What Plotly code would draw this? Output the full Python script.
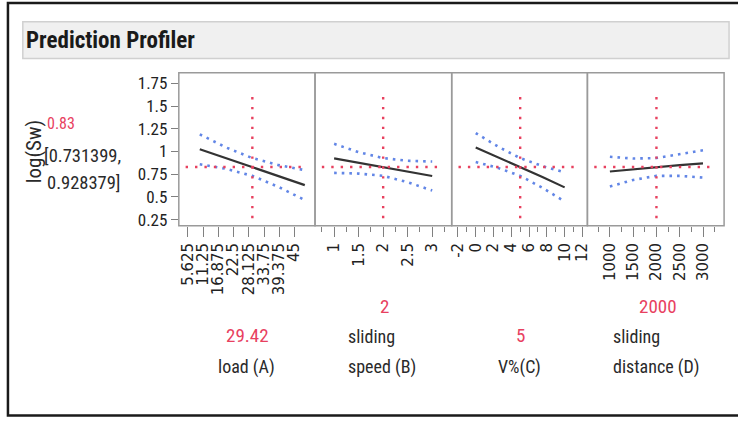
import plotly.graph_objects as go

W, H = 738, 421

# ---------------- data ----------------
response_name = "log(Sw)"
response_value = "0.83"
response_ci = ["[0.731399,", "0.928379]"]

factor_names = [["load (A)"], ["sliding", "speed (B)"], ["V%(C)"], ["sliding", "distance (D)"]]
factor_current = [29.42, 2, 5, 2000]
factor_current_text = ["29.42", "2", "5", "2000"]

load_x = [10, 19.7, 29.42, 39.1, 48.8]
load_pred = [1.025, 0.928, 0.83, 0.73, 0.63]
load_upper = [1.19, 1.045, 0.928, 0.85, 0.795]
load_lower = [0.86, 0.81, 0.732, 0.61, 0.465]

speed_x = [1, 1.5, 2, 2.5, 3]
speed_pred = [0.925, 0.875, 0.83, 0.78, 0.73]
speed_upper = [1.085, 0.993, 0.928, 0.898, 0.89]
speed_lower = [0.765, 0.757, 0.732, 0.662, 0.57]

v_x = [0, 2.5, 5, 7.5, 10]
v_pred = [1.044, 0.937, 0.83, 0.72, 0.605]
v_upper = [1.204, 1.055, 0.928, 0.84, 0.77]
v_lower = [0.885, 0.82, 0.732, 0.60, 0.45]

dist_x = [1000, 1500, 2000, 2500, 3000]
dist_pred = [0.78, 0.805, 0.83, 0.85, 0.87]
dist_upper = [0.942, 0.923, 0.928, 0.968, 1.014]
dist_lower = [0.615, 0.687, 0.732, 0.732, 0.713]

y_ticks = [0.25, 0.5, 0.75, 1, 1.25, 1.5, 1.75]
y_ticktext = ["0.25", "0.5", "0.75", "1", "1.25", "1.5", "1.75"]

load_ticks = [5.625, 11.25, 16.875, 22.5, 28.125, 33.75, 39.375, 45]
load_ticktext = ["5.625", "11.25", "16.875", "22.5", "28.125", "33.75", "39.375", "45"]
speed_ticks = [1, 1.5, 2, 2.5, 3]
speed_ticktext = ["1", "1.5", "2", "2.5", "3"]
v_ticks = [-2, 0, 2, 4, 6, 8, 10, 12]
v_ticktext = ["-2", "0", "2", "4", "6", "8", "10", "12"]
dist_ticks = [1000, 1500, 2000, 2500, 3000]
dist_ticktext = ["1000", "1500", "2000", "2500", "3000"]

# ---------------- styling ----------------
RED = "#e8415f"
BLUE = "#6286e6"
BLACK = "#333333"
GRAY = "#9a9a9a"
NARROW = "Roboto Condensed, Liberation Sans Narrow, Arial Narrow, Liberation Sans, sans-serif"
TICKF = "DejaVu Sans, sans-serif"


def px(x):
    return x / W


def py(y):
    return 1 - y / H


panel_px = [(177.5, 315), (315, 453), (453, 590), (590, 728)]
panel_top, panel_bot = 73.5, 228
x_ranges = [[2.26, 52.57], [0.61, 3.398], [-2.70, 12.56], [517, 3453]]
y_range = [0.181, 1.868]

panels = [
    (load_x, load_pred, load_upper, load_lower, load_ticks, load_ticktext, None),
    (speed_x, speed_pred, speed_upper, speed_lower, speed_ticks, speed_ticktext, 0.25),
    (v_x, v_pred, v_upper, v_lower, v_ticks, v_ticktext, 1),
    (dist_x, dist_pred, dist_upper, dist_lower, dist_ticks, dist_ticktext, 250),
]

fig = go.Figure()
shapes = []
layout = {}

# outer frame and title bar
shapes.append(dict(type="rect", xref="paper", yref="paper", x0=px(5), x1=px(745),
                   y0=py(419.5), y1=py(3), line=dict(color="#1a1a1a", width=2.5),
                   fillcolor="rgba(0,0,0,0)", layer="below"))
shapes.append(dict(type="rect", xref="paper", yref="paper", x0=px(20), x1=px(733),
                   y0=py(59), y1=py(22), line=dict(color="#d0d0d0", width=1.5),
                   fillcolor="#f0f0f0", layer="below"))

for i, (xs, pred, up, lo, tv, tt, minor) in enumerate(panels):
    k = "" if i == 0 else str(i + 1)
    xa = "x" + k
    for band in (up, lo):
        fig.add_trace(go.Scatter(x=xs, y=band, xaxis=xa, yaxis="y", mode="lines",
                                 line=dict(color=BLUE, width=2.6, dash="2.6px,5px"),
                                 hoverinfo="skip", showlegend=False))
    fig.add_trace(go.Scatter(x=xs, y=pred, xaxis=xa, yaxis="y", mode="lines",
                             line=dict(color=BLACK, width=2.2),
                             hoverinfo="skip", showlegend=False))
    shapes.append(dict(type="line", xref=xa + " domain", yref="y", x0=0.05, x1=0.92,
                       y0=float(response_value), y1=float(response_value),
                       line=dict(color=RED, width=2.4, dash="2.4px,7px")))
    shapes.append(dict(type="line", xref=xa, yref="y domain",
                       x0=factor_current[i], x1=factor_current[i], y0=0.05, y1=0.875,
                       line=dict(color=RED, width=2.4, dash="2.4px,7.5px")))
    x0, x1 = panel_px[i]
    shapes.append(dict(type="rect", xref="paper", yref="paper", x0=px(x0), x1=px(x1),
                       y0=py(panel_bot), y1=py(panel_top),
                       line=dict(color=GRAY, width=1.5), fillcolor="rgba(0,0,0,0)"))
    ax = dict(domain=[px(x0), px(x1)], range=x_ranges[i], anchor="y",
              showgrid=False, zeroline=False, showline=False,
              ticks="outside", ticklen=10, tickwidth=1, tickcolor="#808080",
              tickvals=tv, ticktext=tt, tickangle=-90,
              tickfont=dict(family=TICKF, size=15, color="#222222"))
    if minor is not None:
        ax["minor"] = dict(dtick=minor, ticks="outside", ticklen=5, tickcolor="#808080",
                           tick0=tv[0], showgrid=False)
    layout["xaxis" + k] = ax

layout["yaxis"] = dict(domain=[py(panel_bot), py(panel_top)], range=y_range, anchor="x",
                       showgrid=False, zeroline=False, showline=False,
                       ticks="outside", ticklen=7, tickcolor="#808080",
                       tickvals=y_ticks, ticktext=y_ticktext,
                       tickfont=dict(family=NARROW, size=17, color="#222222"))

ann = []
TXT = "#2a2a2a"
ann.append(dict(text="<b>Prediction Profiler</b>", x=px(21), y=py(41), xanchor="left",
                yanchor="middle", font=dict(family=NARROW, size=23, color="#1a1a1a")))
ann.append(dict(text=response_name, x=px(31), y=py(153), textangle=-90,
                xanchor="center", yanchor="middle", font=dict(family=NARROW, size=21, color=TXT)))
ann.append(dict(text=response_value, x=px(42), y=py(125), xanchor="left", yanchor="middle",
                font=dict(family=NARROW, size=16, color=RED)))
ann.append(dict(text=response_ci[0], x=px(39), y=py(157), xanchor="left", yanchor="middle",
                font=dict(family=NARROW, size=18.5, color=TXT)))
ann.append(dict(text=response_ci[1], x=px(42), y=py(185), xanchor="left", yanchor="middle",
                font=dict(family=NARROW, size=18.5, color=TXT)))

val_pos = [(247, 339), (385, 309), (522.7, 339), (661.7, 309)]
name_pos = [(246, [371], "center"), (346, [340, 371], "left"), (521.7, [371], "center"),
            (614, [340, 371], "left")]
for i in range(4):
    vx, vy = val_pos[i]
    ann.append(dict(text=factor_current_text[i], x=px(vx), y=py(vy), xanchor="center",
                    yanchor="middle", font=dict(family=NARROW, size=19, color=RED)))
    nx, nys, na = name_pos[i]
    for line_text, ny in zip(factor_names[i], nys):
        ann.append(dict(text=line_text, x=px(nx), y=py(ny), xanchor=na, yanchor="middle",
                        font=dict(family=NARROW, size=18, color=TXT)))
for a in ann:
    a.update(xref="paper", yref="paper", showarrow=False)

fig.update_layout(width=W, height=H, margin=dict(l=0, r=0, t=0, b=0),
                  paper_bgcolor="white", plot_bgcolor="white",
                  shapes=shapes, annotations=ann, showlegend=False, **layout)

fig.write_html("out.html", config={"displayModeBar": False},
               post_script="document.body.style.margin='0';document.body.style.overflow='hidden';")
